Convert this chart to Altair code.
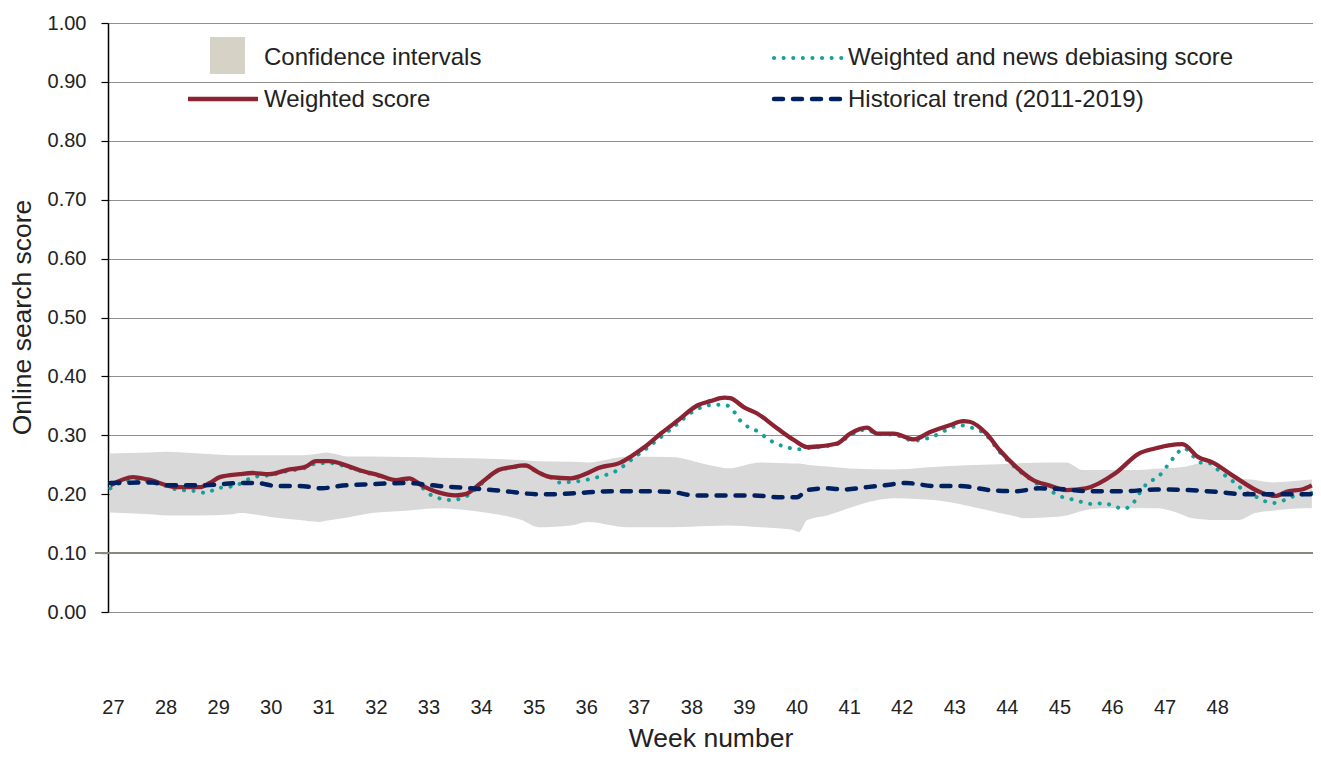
import altair as alt
import pandas as pd

# ---------------- data ----------------
weighted_week = [26.95, 27.38, 27.66, 28.21, 28.65, 28.84, 29.03, 29.41, 29.65, 29.97,
                 30.30, 30.67, 30.86, 31.11, 31.43, 31.68, 32.06, 32.38, 32.63, 32.87,
                 33.19, 33.52, 33.70, 34.01, 34.33, 34.58, 34.84, 35.09, 35.33, 35.71,
                 36.03, 36.22, 36.66, 36.85, 37.11, 37.42, 37.74, 38.12, 38.36, 38.63,
                 38.74, 39.01, 39.25, 39.63, 39.95, 40.20, 40.39, 40.77, 41.02, 41.34,
                 41.53, 41.85, 42.23, 42.53, 42.91, 43.17, 43.29, 43.61, 43.86, 44.18,
                 44.50, 44.80, 45.13, 45.50, 46.07, 46.51, 46.83, 47.08, 47.34, 47.64,
                 47.91, 48.29, 48.86, 49.10, 49.35, 49.61, 49.80]
weighted_score = [0.215, 0.229, 0.225, 0.212, 0.212, 0.219, 0.229, 0.234, 0.236, 0.234,
                  0.241, 0.247, 0.256, 0.256, 0.249, 0.241, 0.232, 0.224, 0.227, 0.215,
                  0.203, 0.198, 0.200, 0.220, 0.241, 0.246, 0.249, 0.237, 0.229, 0.227,
                  0.236, 0.244, 0.254, 0.264, 0.280, 0.303, 0.325, 0.351, 0.358, 0.364,
                  0.363, 0.347, 0.337, 0.312, 0.292, 0.280, 0.281, 0.286, 0.303, 0.313,
                  0.303, 0.303, 0.293, 0.305, 0.317, 0.324, 0.323, 0.303, 0.275, 0.246,
                  0.224, 0.215, 0.207, 0.210, 0.236, 0.269, 0.278, 0.283, 0.285, 0.263,
                  0.254, 0.232, 0.202, 0.197, 0.205, 0.208, 0.215]

debias_week = [26.95, 27.38, 27.66, 28.00, 28.21, 28.59, 28.78, 28.97, 29.16, 29.35,
               29.54, 29.73, 29.97, 30.30, 30.67, 30.86, 31.11, 31.43, 31.68, 32.06,
               32.38, 32.63, 32.87, 33.06, 33.44, 33.63, 33.82, 34.01, 34.33, 34.58,
               34.84, 35.09, 35.33, 35.47, 35.84, 36.22, 36.60, 36.85, 37.11, 37.42,
               37.74, 38.06, 38.44, 38.63, 38.82, 38.93, 39.29, 39.44, 39.63, 39.78,
               40.01, 40.20, 40.39, 40.77, 41.02, 41.34, 41.53, 41.85, 42.23, 42.72,
               42.91, 43.10, 43.29, 43.61, 43.86, 44.18, 44.50, 44.88, 45.06, 45.25,
               45.46, 45.65, 45.84, 46.03, 46.22, 46.41, 46.60, 46.79, 46.96, 47.08,
               47.21, 47.36, 47.68, 47.87, 48.02, 48.19, 48.34, 48.52, 48.71, 48.86,
               49.05, 49.28, 49.47, 49.66, 49.80]
debias_score = [0.210, 0.225, 0.222, 0.214, 0.208, 0.205, 0.202, 0.210, 0.212, 0.215,
                0.224, 0.230, 0.232, 0.239, 0.245, 0.252, 0.253, 0.247, 0.240, 0.231,
                0.224, 0.225, 0.212, 0.198, 0.190, 0.193, 0.202, 0.218, 0.240, 0.245,
                0.248, 0.236, 0.228, 0.220, 0.222, 0.229, 0.241, 0.258, 0.275, 0.297,
                0.320, 0.342, 0.352, 0.352, 0.339, 0.325, 0.305, 0.295, 0.285, 0.281,
                0.276, 0.278, 0.280, 0.285, 0.300, 0.310, 0.302, 0.301, 0.291, 0.303,
                0.312, 0.317, 0.314, 0.300, 0.272, 0.244, 0.222, 0.203, 0.195, 0.191,
                0.186, 0.183, 0.185, 0.180, 0.175, 0.186, 0.212, 0.225, 0.237, 0.252,
                0.266, 0.278, 0.254, 0.252, 0.241, 0.229, 0.219, 0.205, 0.197, 0.190,
                0.185, 0.190, 0.197, 0.200, 0.202]

hist_week = [26.95, 27.76, 28.02, 28.65, 29.47, 29.73, 30.11, 30.55, 30.98, 31.30,
             31.93, 32.57, 33.19, 33.82, 34.46, 35.09, 35.41, 35.84, 36.47, 37.11,
             37.61, 38.06, 38.69, 39.20, 39.63, 40.01, 40.20, 40.58, 40.90, 41.34,
             41.66, 42.09, 42.61, 43.10, 43.67, 44.18, 44.61, 45.13, 45.56, 46.20,
             46.83, 47.45, 48.11, 48.48, 49.05, 49.80]
hist_score = [0.219, 0.220, 0.215, 0.215, 0.219, 0.219, 0.214, 0.214, 0.210, 0.214,
              0.217, 0.219, 0.214, 0.210, 0.205, 0.200, 0.200, 0.202, 0.205, 0.205,
              0.204, 0.198, 0.198, 0.198, 0.195, 0.195, 0.207, 0.210, 0.208, 0.212,
              0.215, 0.219, 0.214, 0.214, 0.207, 0.205, 0.210, 0.208, 0.205, 0.205,
              0.208, 0.207, 0.203, 0.200, 0.200, 0.200]

band_week = [26.94, 27.70, 28.02, 28.65, 29.27, 29.41, 30.03, 30.54, 30.92, 31.05,
             31.49, 31.92, 32.57, 33.19, 33.82, 34.14, 34.77, 35.09, 35.71, 36.03,
             36.79, 37.61, 38.36, 38.69, 39.31, 39.63, 39.95, 40.05, 40.20, 40.58,
             41.15, 41.85, 42.28, 42.61, 43.23, 43.86, 44.18, 44.31, 44.80, 45.13,
             45.45, 45.88, 46.51, 46.83, 47.34, 47.45, 47.77, 47.97, 48.40, 48.72,
             49.05, 49.67, 49.80]
band_upper = [0.269, 0.271, 0.272, 0.269, 0.266, 0.266, 0.266, 0.266, 0.269, 0.271,
              0.264, 0.264, 0.263, 0.262, 0.261, 0.260, 0.258, 0.256, 0.255, 0.254,
              0.264, 0.263, 0.249, 0.244, 0.254, 0.253, 0.252, 0.252, 0.250, 0.247,
              0.243, 0.242, 0.244, 0.246, 0.249, 0.251, 0.252, 0.253, 0.254, 0.254,
              0.241, 0.241, 0.241, 0.243, 0.246, 0.248, 0.254, 0.245, 0.227, 0.224,
              0.220, 0.224, 0.225]
band_lower = [0.169, 0.166, 0.164, 0.164, 0.166, 0.168, 0.161, 0.156, 0.153, 0.155,
              0.161, 0.168, 0.172, 0.176, 0.172, 0.168, 0.156, 0.144, 0.147, 0.153,
              0.144, 0.144, 0.146, 0.147, 0.144, 0.142, 0.139, 0.136, 0.156, 0.164,
              0.181, 0.193, 0.192, 0.190, 0.181, 0.168, 0.162, 0.159, 0.161, 0.164,
              0.172, 0.176, 0.176, 0.176, 0.165, 0.161, 0.157, 0.156, 0.156, 0.168,
              0.172, 0.176, 0.176]

week_ticks = list(range(27, 49))
score_ticks = [0.0, 0.1, 0.2, 0.3, 0.4, 0.5, 0.6, 0.7, 0.8, 0.9, 1.0]
threshold = [0.1]
legend_labels = ["Confidence intervals", "Weighted score",
                 "Weighted and news debiasing score", "Historical trend (2011-2019)"]

# ---------------- styling ----------------
FONT = "Liberation Sans"
TXT = "#222222"
RED = "#8B2332"
TEAL = "#16A09A"
NAVY = "#002060"
BAND = "#D9D9D9"
SWATCH = "#D6D3C6"
W, H = 1205, 589

x_scale = alt.Scale(domain=[26.905, 49.822], nice=False, zero=False)
y_scale = alt.Scale(domain=[0, 1], nice=False, zero=True)

x_axis = alt.Axis(values=week_ticks, format="d", grid=False, domain=False, ticks=False,
                  tickSize=0, labelPadding=85, labelFontSize=20, labelFont=FONT,
                  labelColor=TXT, labelFlush=False, title="Week number",
                  titleFontSize=26.5, titleFont=FONT, titleFontWeight="normal",
                  titleColor=TXT, titleY=134, titleBaseline="alphabetic")
y_axis = alt.Axis(values=score_ticks, format=".2f", grid=True, gridColor="#8f8f8f",
                  gridWidth=1, domainColor="#000000", domainWidth=1.5,
                  tickColor="#000000", tickSize=7, tickWidth=1.2, labelPadding=15,
                  labelFontSize=20, labelFont=FONT, labelColor=TXT,
                  title="Online search score", titleFontSize=26.5, titleFont=FONT,
                  titleFontWeight="normal", titleColor=TXT, titleX=-86, titleY=294,
                  titleAngle=-90, titleAlign="center", titleBaseline="middle")

band_df = pd.DataFrame({"week": band_week, "upper": band_upper, "lower": band_lower})
w_df = pd.DataFrame({"week": weighted_week, "score": weighted_score})
d_df = pd.DataFrame({"week": debias_week, "score": debias_score})
h_df = pd.DataFrame({"week": hist_week, "score": hist_score})
t_df = pd.DataFrame({"score": threshold})

xq = alt.X("week:Q", scale=x_scale, axis=x_axis)
yq = alt.Y("score:Q", scale=y_scale, axis=y_axis)

band = alt.Chart(band_df).mark_area(color=BAND, opacity=1, interpolate="monotone").encode(
    x=xq,
    y=alt.Y("lower:Q", scale=y_scale, axis=y_axis),
    y2="upper:Q",
)
thr = alt.Chart(t_df).mark_rule(color="#8a877c", strokeWidth=2).encode(
    y=yq, x=alt.value(-13), x2=alt.value(W),
)
debias = alt.Chart(d_df).mark_line(color=TEAL, strokeWidth=4, strokeDash=[0.1, 9.5],
                                   strokeCap="round", interpolate="monotone").encode(x=xq, y=yq)
weighted = alt.Chart(w_df).mark_line(color=RED, strokeWidth=4.3, strokeJoin="round",
                                     interpolate="monotone").encode(x=xq, y=yq)
hist = alt.Chart(h_df).mark_line(color=NAVY, strokeWidth=4.5, strokeDash=[9, 10],
                                 strokeCap="round", interpolate="monotone").encode(x=xq, y=yq)

# ---------------- legend (drawn inside the plot) ----------------
one = pd.DataFrame({"k": [0]})
leg_swatch = alt.Chart(one).mark_rect(color=SWATCH).encode(
    x=alt.value(102), x2=alt.value(137), y=alt.value(14), y2=alt.value(51))
leg_red = alt.Chart(one).mark_rule(color=RED, strokeWidth=4.3).encode(
    x=alt.value(80), x2=alt.value(150), y=alt.value(76))
leg_teal = alt.Chart(one).mark_rule(color=TEAL, strokeWidth=4, strokeDash=[0.1, 9.5],
                                    strokeCap="round").encode(
    x=alt.value(666), x2=alt.value(736), y=alt.value(35))
leg_navy = alt.Chart(one).mark_rule(color=NAVY, strokeWidth=4.5, strokeDash=[9, 10],
                                    strokeCap="round").encode(
    x=alt.value(666), x2=alt.value(736), y=alt.value(76))

def leg_text(label, x, y):
    return alt.Chart(one).mark_text(text=label, align="left", baseline="middle",
                                    font=FONT, fontSize=24, color=TXT).encode(
        x=alt.value(x), y=alt.value(y))

texts = [leg_text(legend_labels[0], 156, 35), leg_text(legend_labels[1], 156, 77),
         leg_text(legend_labels[2], 740, 35), leg_text(legend_labels[3], 740, 77)]

chart = alt.layer(band, thr, debias, weighted, hist,
                  leg_swatch, leg_red, leg_teal, leg_navy, *texts).properties(
    width=W, height=H,
    autosize=alt.AutoSizeParams(type="none"),
    padding={"left": 100, "top": 15, "right": 0, "bottom": 140},
).configure_view(strokeWidth=0).configure(background="white")

chart.save("out.html", embed_options={"renderer": "svg", "actions": False})
